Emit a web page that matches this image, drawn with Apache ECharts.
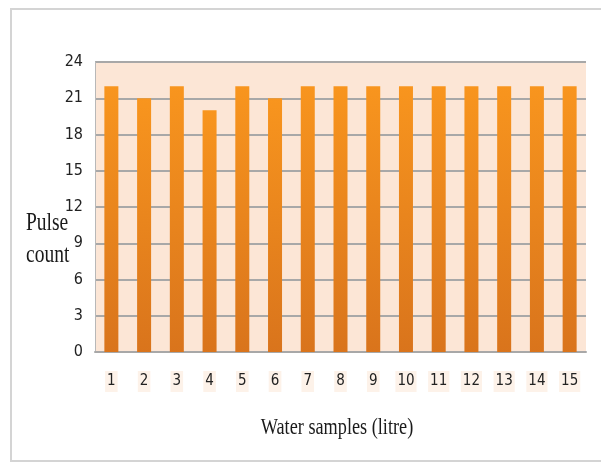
<!DOCTYPE html>
<html>
<head>
<meta charset="utf-8">
<script src="https://cdn.jsdelivr.net/npm/echarts@6/dist/echarts.min.js"></script>
<style>
  html, body { margin: 0; padding: 0; background: #ffffff; }
  #chart { width: 601px; height: 463px; }
</style>
</head>
<body>
<div id="chart"></div>
<script>
// Pulse counts measured for each water sample
const samples = ['1', '2', '3', '4', '5', '6', '7', '8', '9', '10', '11', '12', '13', '14', '15'];
const pulseCounts = [22, 21, 22, 20, 22, 21, 22, 22, 22, 22, 22, 22, 22, 22, 22];
const yTicks = [0, 3, 6, 9, 12, 15, 18, 21, 24];

const chart = echarts.init(document.getElementById('chart'), null, { renderer: 'canvas' });

const serif = '"Liberation Serif", "Times New Roman", serif';
const narrow = '"Liberation Sans Narrow", "DejaVu Sans Condensed", "Liberation Sans", sans-serif';

const option = {
  backgroundColor: '#ffffff',
  animation: false,
  grid: {
    left: 95, right: 15, top: 62, bottom: 111,
    show: true,
    backgroundColor: '#fce6d6',
    borderWidth: 0
  },
  graphic: [
    {
      type: 'rect',
      shape: { x: 11, y: 9, width: 600, height: 452 },
      style: { fill: 'none', stroke: '#d4d4d4', lineWidth: 2 },
      z: -1
    },
    {
      type: 'text', x: 26, y: 223, scaleX: 0.78, originX: 0, originY: 0,
      style: { text: 'Pulse', font: '25px ' + serif, fill: '#1a1a1a', textVerticalAlign: 'middle' }
    },
    {
      type: 'text', x: 26, y: 255, scaleX: 0.78, originX: 0, originY: 0,
      style: { text: 'count', font: '25px ' + serif, fill: '#1a1a1a', textVerticalAlign: 'middle' }
    },
    {
      type: 'text', x: 337, y: 428, scaleX: 0.76, originX: 0, originY: 0,
      style: {
        text: 'Water samples (litre)', font: '24px ' + serif, fill: '#1a1a1a',
        textAlign: 'center', textVerticalAlign: 'middle'
      }
    }
  ],
  xAxis: {
    type: 'category',
    data: samples,
    axisLine: { show: true, lineStyle: { color: '#a8a8a8', width: 2 } },
    axisTick: { show: false },
    splitLine: { show: false },
    axisLabel: {
      margin: 19,
      fontFamily: narrow,
      fontSize: 15,
      color: '#222',
      backgroundColor: 'rgba(250,222,200,0.4)',
      padding: [3, 2, 3, 2]
    }
  },
  yAxis: {
    type: 'value',
    min: yTicks[0],
    max: yTicks[yTicks.length - 1],
    interval: yTicks[1] - yTicks[0],
    axisLine: { show: true, lineStyle: { color: '#b8b8b8', width: 1 } },
    axisTick: { show: false },
    splitLine: { show: true, lineStyle: { color: '#a8a8a8', width: 2 } },
    axisLabel: {
      margin: 12,
      fontFamily: narrow,
      fontSize: 16,
      color: '#222'
    }
  },
  series: [
    {
      type: 'bar',
      data: pulseCounts,
      barWidth: 14,
      itemStyle: {
        color: new echarts.graphic.LinearGradient(0, 0, 0, 1, [
          { offset: 0, color: '#f8951e' },
          { offset: 1, color: '#d9741c' }
        ])
      }
    }
  ]
};

chart.setOption(option);
</script>
</body>
</html>
